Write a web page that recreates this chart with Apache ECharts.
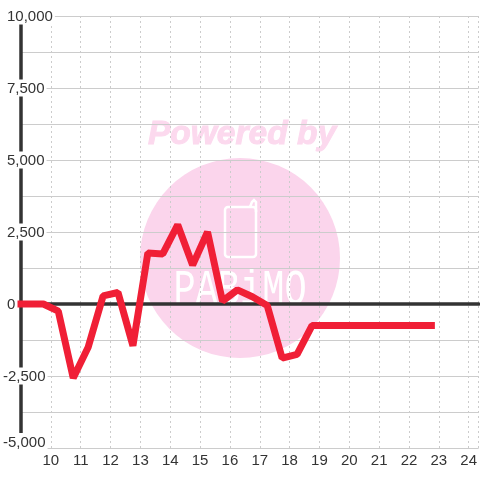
<!DOCTYPE html>
<html>
<head>
<meta charset="utf-8">
<style>
  html, body { margin: 0; padding: 0; background: #fff; }
  #chart { width: 480px; height: 480px; }
</style>
<script src="https://cdn.jsdelivr.net/npm/echarts@6/dist/echarts.min.js"></script>
</head>
<body>
<div id="chart"></div>
<script>
// values
var xValues = [9, 9.75, 10.25, 10.75, 11.25, 11.75, 12.25, 12.75, 13.25, 13.75, 14.25, 14.75, 15.25, 15.75, 16.25, 16.75, 17.25, 17.75, 18.25, 18.75, 19.25, 19.75, 20.25, 20.75, 21.25, 21.75, 22.25, 22.75];
var yValues = [0, 0, -250, -2570, -1500, 280, 400, -1450, 1770, 1740, 2750, 1350, 2500, 100, 490, 250, -50, -1880, -1750, -750, -750, -750, -750, -750, -750, -750, -750, -750];
var xMin = 9;
var xMax = 24.333;
var yMin = -5000;
var yMax = 10000;

var points = [];
xValues.forEach(function (x, i) {
  points.push([x, yValues[i]]);
});

var myChart = echarts.init(document.getElementById("chart"));
myChart.setOption({
  animation: false,
  backgroundColor: "#fff",
  grid: { left: 20, right: 0, top: 16, bottom: 32 },
  // watermark sits behind the grid lines
  graphic: [
    {
      type: "circle",
      z: -10,
      shape: { cx: 240, cy: 258, r: 100 },
      style: { fill: "#fbd5ec" },
    },
    {
      type: "text",
      z: -10,
      x: 242,
      y: 135,
      style: {
        text: "Powered by",
        align: "center",
        verticalAlign: "middle",
        font: "italic bold 33.5px 'Liberation Sans'",
        fill: "#fcd9ee",
        stroke: "#fcd9ee",
        lineWidth: 1,
      },
    },
    {
      type: "rect",
      z: -9,
      shape: { x: 225, y: 207, width: 31, height: 50, r: 3 },
      style: { fill: "none", stroke: "#fff", lineWidth: 2.5 },
    },
    {
      type: "polyline",
      z: -9,
      shape: { points: [[250, 207], [252, 202], [254, 200], [256, 202], [256, 212]] },
      style: { fill: "none", stroke: "#fff", lineWidth: 2.5 },
    },
    {
      type: "text",
      z: -9,
      x: 240,
      y: 291,
      scaleY: 1.35,
      style: {
        text: "PABiMO",
        align: "center",
        verticalAlign: "middle",
        font: "37px 'Liberation Mono'",
        fill: "#fff",
      },
    },
  ],
  xAxis: [
    {
      type: "value",
      min: xMin,
      max: xMax,
      interval: 1,
      axisLine: { show: false, onZero: false },
      axisTick: { show: false },
      splitLine: { show: true, lineStyle: { color: "#ccc", width: 1, type: [2, 3] } },
      axisLabel: {
        margin: 5,
        fontFamily: "Liberation Sans",
        fontSize: 15,
        color: "#333",
        showMaxLabel: false,
        showMinLabel: false,
      },
    },
    {
      // dark zero line, the labels stay on the bottom axis
      type: "value",
      min: xMin,
      max: xMax,
      interval: 1,
      axisLine: { show: true, onZero: true, lineStyle: { color: "#333", width: 3.5 } },
      axisTick: { show: false },
      axisLabel: { show: false },
      splitLine: { show: false },
    },
  ],
  yAxis: {
    type: "value",
    min: yMin,
    max: yMax,
    interval: 2500,
    axisLine: { show: true, lineStyle: { color: "#333", width: 3.5 } },
    axisTick: { show: false },
    splitLine: { show: true, lineStyle: { color: "#ccc", width: 1 } },
    minorTick: { show: false, splitNumber: 2 },
    minorSplitLine: { show: true, lineStyle: { color: "#ccc", width: 1 } },
    axisLabel: {
      align: "left",
      margin: 18,
      verticalAlignMinLabel: "bottom",
      formatter: function (v) {
        var s = String(Math.abs(v)).replace(/\B(?=(\d{3})+$)/g, ",");
        return v < 0 ? "{neg|-" + s + "}" : "{pos|" + s + "}";
      },
      rich: {
        neg: {
          fontFamily: "Liberation Sans",
          fontSize: 15,
          lineHeight: 13,
          color: "#333",
          backgroundColor: "#fff",
          padding: [2, 2, 0, 0],
        },
        pos: {
          fontFamily: "Liberation Sans",
          fontSize: 15,
          lineHeight: 13,
          color: "#333",
          backgroundColor: "#fff",
          padding: [2, 2, 0, 4],
        },
      },
    },
  },
  series: [
    {
      type: "line",
      data: points,
      xAxisIndex: 0,
      showSymbol: false,
      symbol: "none",
      clip: false,
      z: 5,
      lineStyle: { color: "#f01f36", width: 7, cap: "square", join: "bevel" },
    },
  ],
});
</script>
</body>
</html>
